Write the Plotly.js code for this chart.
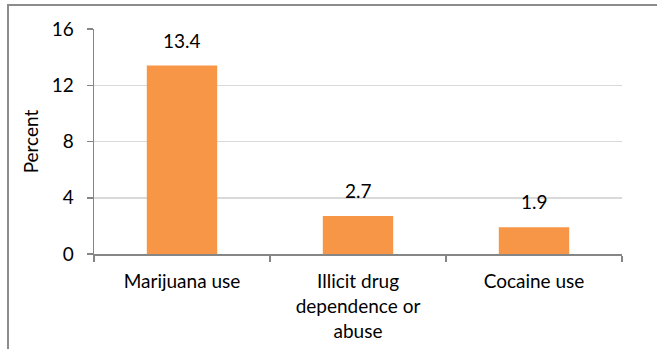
<!DOCTYPE html>
<html><head><meta charset="utf-8">
<script src="https://cdn.plot.ly/plotly-3.0.1.min.js"></script>
<style>
body{margin:0;padding:0;background:#fff;}
#wrap{position:relative;width:657px;height:349px;}
#chart{width:657px;height:349px;}
#frame{position:absolute;left:7px;top:4px;width:660px;height:360px;border-top:2px solid #8c8c8c;border-left:2px solid #8c8c8c;pointer-events:none;}
</style></head>
<body><div id="wrap"><div id="chart"></div><div id="frame"></div></div>
<script>
var categories = ["Marijuana use", "Illicit drug<br>dependence or<br>abuse", "Cocaine use"];
var values = [13.4, 2.7, 1.9];
var valueLabels = ["13.4", "2.7", "1.9"];
var yTicks = [0, 4, 8, 12, 16];

var font = {family: "Lato, 'Noto Sans', sans-serif", size: 19, color: "#000"};

var trace = {
  type: "bar",
  x: categories,
  y: values,
  marker: {color: "#F79646"},
  width: 0.4,
  hoverinfo: "none"
};

var annotations = categories.map(function(c, i){
  return {x: c, y: values[i], text: valueLabels[i], showarrow: false,
    yanchor: "bottom", yshift: 12, font: font};
});

var layout = {
  width: 657, height: 349,
  margin: {l: 94, r: 35, t: 29, b: 95},
  paper_bgcolor: "#fff", plot_bgcolor: "#fff",
  font: font,
  showlegend: false,
  bargap: 0.6,
  xaxis: {
    type: "category",
    showline: true, linecolor: "#868686", linewidth: 1.5,
    ticks: "outside", tickson: "boundaries", ticklen: 6, tickcolor: "#868686", tickwidth: 1.5,
    showgrid: false, zeroline: false,
    ticklabelstandoff: 10,
    tickfont: font
  },
  yaxis: {
    range: [0, 16],
    tickvals: yTicks,
    showline: true, linecolor: "#868686", linewidth: 1.5,
    ticks: "outside", ticklen: 6, tickcolor: "#868686", tickwidth: 1.5,
    showgrid: true, gridcolor: "#D9D9D9", gridwidth: 1.5,
    zeroline: false,
    ticklabelstandoff: 9,
    tickfont: font,
    title: {text: "Percent", font: font, standoff: 8}
  },
  annotations: annotations
};

Plotly.newPlot("chart", [trace], layout, {staticPlot: true, displayModeBar: false});
</script></body></html>
